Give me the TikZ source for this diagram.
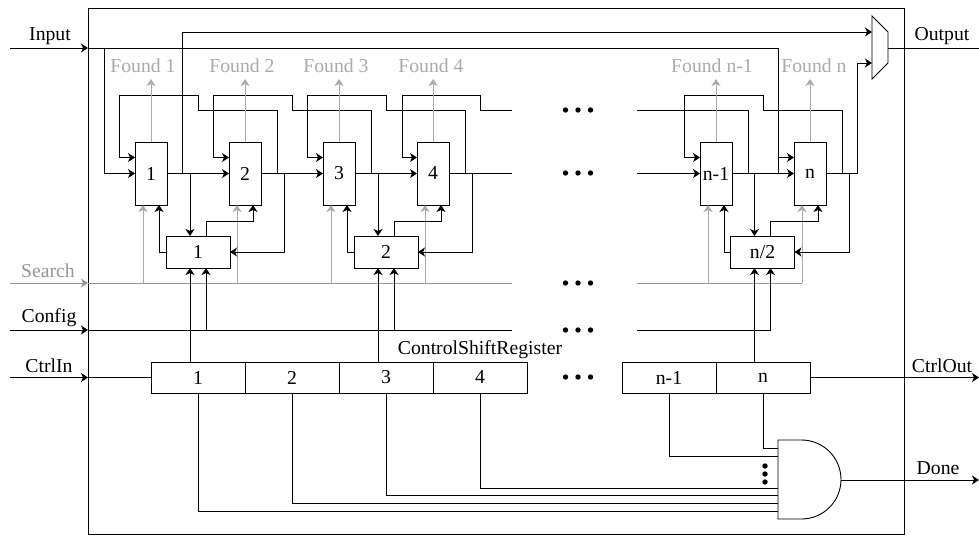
\documentclass[tikz,border=0pt]{standalone}
\usepackage{fontspec}
\setmainfont{Liberation Serif}
\usepackage{xcolor}
\usetikzlibrary{arrows.meta,positioning}
\definecolor{foundgray}{RGB}{170,170,170}
\definecolor{searchgray}{RGB}{150,150,150}

\begin{document}
\begin{tikzpicture}[
    x=1pt, y=-1pt,
    line width=0.9pt,
    every node/.style={font=\fontsize{19.7}{21}\selectfont, inner sep=0pt, outer sep=0pt},
    frame/.style={draw, minimum width=816pt, minimum height=526pt},
    cell/.style={draw, minimum width=32pt, minimum height=63pt},
    unit/.style={draw, minimum width=64pt, minimum height=32pt},
    regcell/.style={draw, minimum width=94pt, minimum height=31pt},
    foundtxt/.style={text=foundgray},
    dot/.style={circle, fill=black, minimum size=5.4pt},
    arr/.style={-{Stealth[length=7pt,width=9pt,inset=2pt]}},
    garr/.style={arr, foundgray},
    sline/.style={searchgray}
]
\useasboundingbox (0,0) rectangle (979,535);
\node[frame] (frame) at (496,271) {};

% memory cells
\node[cell] (c1) at (151,173.5) {1};
\node[cell, right=62pt of c1] (c2) {2};
\node[cell, right=62pt of c2] (c3) {3};
\node[cell, right=62pt of c3] (c4) {4};
\node[cell] (cn1) at (716,173.5) {n-1};
\node[cell, right=62pt of cn1] (cn) {n};

% swap units
\node[unit] (u1) at (198,252) {1};
\node[unit, right=124pt of u1] (u2) {2};
\node[unit] (un) at (762.5,252) {n/2};

% shift register
\node[regcell] (r1) at (198,377.5) {1};
\node[regcell, right=0pt of r1] (r2) {2};
\node[regcell, right=0pt of r2] (r3) {3};
\node[regcell, right=0pt of r3] (r4) {4};
\node[regcell] (rn1) at (669,377.5) {n-1};
\node[regcell, right=0pt of rn1] (rn) {n};
\node (regname) at (480,350) {ControlShiftRegister};

% labels
\node (inputtxt) at (50,36) {Input};
\node[text=searchgray] (searchtxt) at (48,271) {Search};
\node (configtxt) at (49,318) {Config};
\node (ctrlintxt) at (49,366) {CtrlIn};
\node (outputtxt) at (942,36) {Output};
\node (ctrlouttxt) at (942,366) {CtrlOut};
\node (donetxt) at (938,468) {Done};
\node[foundtxt] (f1) at (143,66) {Found 1};
\node[foundtxt] (f2) at (242,66) {Found 2};
\node[foundtxt] (f3) at (336,66) {Found 3};
\node[foundtxt] (f4) at (431,66) {Found 4};
\node[foundtxt] (fn1) at (712,66) {Found n-1};
\node[foundtxt] (fn) at (814,66) {Found n};

% free ends
\coordinate (inL) at (10,48);
\coordinate (searchL) at (10,283);
\coordinate (configL) at (10,330);
\coordinate (ctrlL) at (10,377.5);
\coordinate (mainR) at (512,173.5);
\coordinate (mainL) at (637,173.5);
\coordinate (fbR) at (512,110);
\coordinate (fbL) at (637,110);
\coordinate (searchR) at (512,283);
\coordinate (searchM) at (637,283);
\coordinate (configR) at (512,330);
\coordinate (configM) at (637,330);
\coordinate (outR) at (979,48);
\coordinate (ctrloutR) at (979,377.5);
\coordinate (doneR) at (979,480);
\coordinate (muxa) at (872,32);
\coordinate (muxb) at (872,63);
\coordinate (muxout) at (888,48);
\coordinate (anda) at (778,448);
\coordinate (andb) at (778,456);
\coordinate (andc) at (778,488);
\coordinate (andd) at (778,495);
\coordinate (ande) at (778,503);
\coordinate (andf) at (778,511);
\coordinate (andout) at (841,480);

% mux and and gate
\draw (872,16) -- (888,32) -- (888,63) -- (872,79) -- cycle;
\draw (778,440) -- (801.5,440) arc (-90:90:39.5) -- (778,519) -- cycle;

% inputs
\draw[arr] (inL) -- (inL -| frame.west);
\draw[sline, arr] (searchL) -- (searchL -| frame.west);
\draw[arr] (configL) -- (configL -| frame.west);
\draw[arr] (ctrlL) -- (ctrlL -| frame.west);
\draw[arr] (inL -| frame.west) -| ([xshift=-16pt]cn.west) |- ([yshift=16pt]cn.west);
\draw[arr] ([xshift=-31pt]c1.west |- inL) |- (c1.west);
\draw[sline] (searchL -| frame.west) -- (searchR);
\draw[sline] (searchM) -| ([xshift=-8pt]cn.south |- searchM);
\draw (configL -| frame.west) -- (configR);
\draw (configM) -- ([xshift=8pt]un.south |- configM);
\draw (ctrlL -| frame.west) -- (r1.west);

% main line
\draw[arr] (c1.east) -- (c2.west);
\draw[arr] (c2.east) -- (c3.west);
\draw[arr] (c3.east) -- (c4.west);
\draw (c4.east) -- (mainR);
\draw[arr] (mainL) -- (cn1.west);
\draw[arr] (cn1.east) -- (cn.west);
\draw[arr] (cn.east) -- ++(31,0) |- (muxb);
\draw[arr] ([xshift=15pt]c1.east) |- (muxa);
\draw (muxout) -- (outR);

% feedback lines
\draw[arr] ([xshift=16pt]c2.east) -- ++(0,-63.5) -- ++(-79,0) -- ++(0,-15) -- ++(-79,0) |- ([yshift=16pt]c1.west);
\draw[arr] ([xshift=16pt]c3.east) -- ++(0,-63.5) -- ++(-79,0) -- ++(0,-15) -- ++(-79,0) |- ([yshift=16pt]c2.west);
\draw[arr] ([xshift=16pt]c4.east) -- ++(0,-63.5) -- ++(-79,0) -- ++(0,-15) -- ++(-79,0) |- ([yshift=16pt]c3.west);
\draw[arr] (fbR) -- ++(-32,0) -- ++(0,-15) -- ++(-78,0) |- ([yshift=16pt]c4.west);
\draw (fbL) -| ([xshift=16pt]cn1.east);
\draw[arr] ([xshift=16pt]cn.east) -- ++(0,-63.5) -- ++(-79,0) -- ++(0,-15) -- ++(-79,0) |- ([yshift=16pt]cn1.west);

% found outputs
\draw[garr] (c1.north) -- ++(0,-63);
\draw[garr] (c2.north) -- ++(0,-63);
\draw[garr] (c3.north) -- ++(0,-63);
\draw[garr] (c4.north) -- ++(0,-63);
\draw[garr] (cn1.north) -- ++(0,-63);
\draw[garr] (cn.north) -- ++(0,-63);

% search taps
\draw[garr] ([xshift=-8pt]c1.south |- searchL) -- ([xshift=-8pt]c1.south);
\draw[garr] ([xshift=-8pt]c2.south |- searchL) -- ([xshift=-8pt]c2.south);
\draw[garr] ([xshift=-8pt]c3.south |- searchL) -- ([xshift=-8pt]c3.south);
\draw[garr] ([xshift=-8pt]c4.south |- searchL) -- ([xshift=-8pt]c4.south);
\draw[garr] ([xshift=-8pt]cn1.south |- searchL) -- ([xshift=-8pt]cn1.south);
\draw[garr] ([xshift=-8pt]cn.south |- searchL) -- ([xshift=-8pt]cn.south);

% swap unit 1
\draw[arr] ([xshift=-8pt]u1.north |- c1.east) -- ([xshift=-8pt]u1.north);
\draw[arr] (u1.west) -| ([xshift=8pt]c1.south);
\draw[arr] ([xshift=8pt]u1.north) -- ++(0,-15) -| ([xshift=8pt]c2.south);
\draw[arr] ([xshift=23pt]c2.east) |- (u1.east);
\draw[arr] ([xshift=-8pt]u1.south |- r1.north) -- ([xshift=-8pt]u1.south);
\draw[arr] ([xshift=8pt]u1.south |- configL) -- ([xshift=8pt]u1.south);

% swap unit 2
\draw[arr] ([xshift=-8pt]u2.north |- c3.east) -- ([xshift=-8pt]u2.north);
\draw[arr] (u2.west) -| ([xshift=8pt]c3.south);
\draw[arr] ([xshift=8pt]u2.north) -- ++(0,-15) -| ([xshift=8pt]c4.south);
\draw[arr] ([xshift=23pt]c4.east) |- (u2.east);
\draw[arr] ([xshift=-8pt]u2.south |- r3.north) -- ([xshift=-8pt]u2.south);
\draw[arr] ([xshift=8pt]u2.south |- configL) -- ([xshift=8pt]u2.south);

% swap unit n/2
\draw[arr] ([xshift=-8pt]un.north |- cn1.east) -- ([xshift=-8pt]un.north);
\draw[arr] (un.west) -| ([xshift=8pt]cn1.south);
\draw[arr] ([xshift=8pt]un.north) -- ++(0,-15) -| ([xshift=8pt]cn.south);
\draw[arr] ([xshift=23pt]cn.east) |- (un.east);
\draw[arr] ([xshift=-8pt]un.south |- rn.north) -- ([xshift=-8pt]un.south);
\draw[arr] ([xshift=8pt]un.south |- configL) -- ([xshift=8pt]un.south);

% register outputs
\draw[arr] (rn.east) -- (ctrloutR);
\draw (rn.south) |- (anda);
\draw (rn1.south) |- (andb);
\draw (r4.south) |- (andc);
\draw (r3.south) |- (andd);
\draw (r2.south) |- (ande);
\draw (r1.south) |- (andf);
\draw[arr] (andout) -- (doneR);

% dots
\foreach \n/\y in {a/110,b/173,c/283,d/330,e/377}{
    \node[dot] (\n1) at (565.5,\y) {};
    \node[dot, right=7.1pt of \n1] (\n2) {};
    \node[dot, right=7.1pt of \n2] (\n3) {};
}
\node[dot] (g1) at (765,466) {};
\node[dot, below=2.6pt of g1] (g2) {};
\node[dot, below=2.6pt of g2] (g3) {};
\end{tikzpicture}
\end{document}
